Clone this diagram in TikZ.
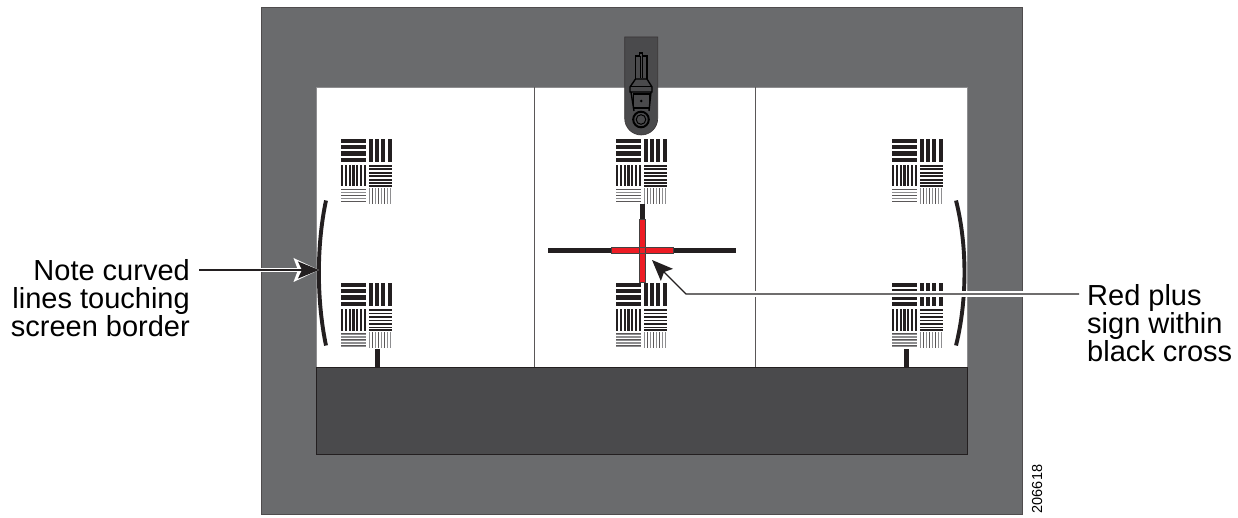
\documentclass[tikz,border=0pt]{standalone}
\usepackage{fontspec}
\setmainfont{Liberation Sans}
\usetikzlibrary{arrows.meta}
\definecolor{outerg}{HTML}{6A6B6D}
\definecolor{panelg}{HTML}{4A4A4C}
\definecolor{inkk}{HTML}{231F20}
\definecolor{plusred}{HTML}{ED1C24}
\definecolor{thing}{HTML}{8E8E90}
\tikzset{
  x=1pt,y=-1pt,
  lbl/.style={font=\fontsize{29}{28}\selectfont,inner sep=0pt,align=left},
  lblr/.style={font=\fontsize{29}{28}\selectfont,inner sep=0pt,align=right},
  curveline/.style={draw=inkk,line width=3.9pt},
  halo/.style={draw=white,line width=4.6pt},
  halowide/.style={draw=white,line width=6pt},
  leader/.style={draw=inkk,line width=1.3pt},
  tip/.style={-{Stealth[length=21pt,width=17pt,inset=4pt]}},
  tiphalo/.style={-{Stealth[length=25pt,width=23pt,inset=4pt]}},
}
% test pattern at upper-left corner (#1,#2)
\newcommand{\testpat}[2]{%
 \begin{scope}[shift={(#1,#2)}]
  \foreach \y in {0,6.2,12.4,18.6}{\fill[inkk] (0,\y) rectangle (25,\y+4.2);}
  \foreach \x in {28,34.2,40.4,46.8}{\fill[inkk] (\x,0) rectangle (\x+4,23);}
  \foreach \x in {0,3.8,7.6,11.4,15.2,19,22.8}{\fill[inkk] (\x,26) rectangle (\x+2.2,47.5);}
  \foreach \y in {26,29.5,33,36.5,40,43.5,46}{\fill[inkk] (28,\y) rectangle (51,\y+1.8);}
  \foreach \y in {50,53,56,59,62}{\fill[thing] (-0.5,\y) rectangle (24.5,\y+1.5);}
  \foreach \y in {50,56,62}{\fill[inkk!75] (-0.5,\y) rectangle (24.5,\y+0.8);}
  \foreach \x in {27.5,30.5,33.5,36.5,39.5,42.5,45.5,48.5}{\fill[thing] (\x,49) rectangle (\x+1.6,65);}
  \foreach \x in {30.5,36.5,42.5}{\fill[inkk!75] (\x,49) rectangle (\x+0.8,65);}
 \end{scope}}
\begin{document}
\begin{tikzpicture}
\useasboundingbox (0,0) rectangle (1238,518);
% housing
\fill[outerg,draw=inkk!80,line width=0.8pt] (261,7) rectangle (1022,514);
\fill[white,draw=thing,line width=0.6pt] (316,87) rectangle (967,367);
\fill[panelg,draw=inkk,line width=0.7pt] (316,367) rectangle (967,454);
\draw[inkk!75,line width=1pt] (534.5,87) -- (534.5,367);
\draw[inkk!75,line width=1pt] (755.3,87) -- (755.3,367);
% test patterns
\testpat{341}{139}\testpat{341}{283}
\testpat{616}{139}\testpat{616}{283}
\testpat{892}{139}\testpat{892}{283}
% stubs
\fill[inkk] (375,349) rectangle (380,367);
\fill[inkk] (904,349) rectangle (909,367);
% curves
\draw[curveline] (326,200.5) .. controls (316.5,245) and (316.5,300) .. (326,345.5);
\draw[curveline] (956,200.5) .. controls (967.3,245) and (967.3,300) .. (956,345.5);
% stylus
\draw[fill=panelg,draw=inkk!90,line width=0.6pt] (624.7,37) -- (657.7,37) -- (657.7,118.5) arc[start angle=0,end angle=180,radius=16.5] -- cycle;
\begin{scope}[draw=black,line width=1.4pt]
 \draw (635.5,79) -- (635.5,56) -- (639.5,56) -- (639.5,53) -- (642.5,53) -- (642.5,56) -- (647,56) -- (647,79);
 \draw[line width=1pt] (640,56) -- (640,78) (642.5,56) -- (642.5,78);
 \draw (635.5,79) -- (647,79) -- (652,87) -- (652,92) -- (630,92) -- (630,87) -- cycle;
 \draw[line width=1pt] (630,87) -- (652,87);
 \draw (631,92) -- (634,111) (651,92) -- (649,111);
 \draw (633.5,94) -- (649.5,94) -- (649.5,108) -- (633.5,108) -- cycle;
 \draw[line width=2pt] (641,119.5) circle[radius=7.8];
 \fill[black] (641.3,101) circle[radius=1.4];
 \draw[line width=1pt] (641,119.5) circle[radius=4.8];
\end{scope}
% cross
\fill[inkk] (548,247.7) rectangle (736,252.6);
\fill[inkk] (639.5,204) rectangle (644.8,220);
\draw[fill=plusred,draw=inkk!85,line width=0.8pt] (611,247.3) rectangle (673.5,253.5);
\draw[fill=plusred,draw=inkk!85,line width=0.8pt] (639.2,219.5) rectangle (645.7,282);
\draw[inkk!80,line width=0.7pt] (639.2,247.3) -- (645.7,247.3) (639.2,253.5) -- (645.7,253.5);
% labels
\node[lblr,anchor=east] (noteL) at (190,298) {Note curved\\lines touching\\screen border};
\node[lbl,anchor=west] (redL) at (1087,323) {Red plus\\sign within\\black cross};
\node[font=\fontsize{14.5}{15}\selectfont,rotate=90,inner sep=0pt] (idL) at (1037,489) {206618};
% connectors
\coordinate (noteStart) at (199,270);
\coordinate (noteTip) at (319,270);
\coordinate (noteHalo) at (261,270);
\coordinate (redStart) at (1079,294);
\coordinate (redElbow) at (686,294);
\coordinate (redTip) at (652,260);
\draw[halo,tiphalo] (noteHalo) -- (noteTip);
\draw[leader,tip] (noteStart) -- (noteTip);
\draw[halowide] (redStart) -- (redElbow);
\draw[leader,tip] (redStart) -- (redElbow) -- (redTip);
\end{tikzpicture}
\end{document}
